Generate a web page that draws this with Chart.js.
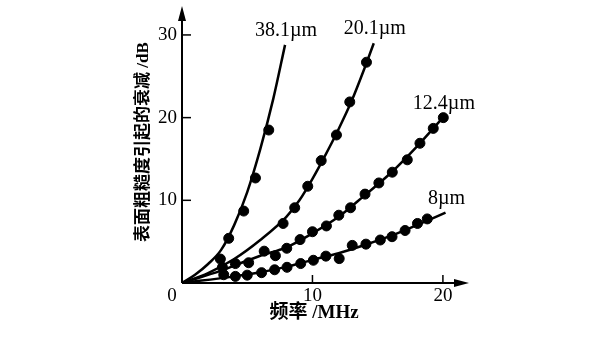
<!DOCTYPE html>
<html>
<head>
<meta charset="utf-8">
<script src="https://cdn.jsdelivr.net/npm/chart.js@4/dist/chart.umd.min.js"></script>
<style>
html, body { margin: 0; padding: 0; background: #fff; }
#wrap { width: 600px; height: 338px; }
</style>
</head>
<body>
<div id="wrap"><canvas id="chart" width="600" height="338"></canvas></div>
<script>
// roughness values (labels at the end of each curve)
const seriesNames = ['38.1µm', '20.1µm', '12.4µm', '8µm'];

// measured points (frequency MHz / loss dB)
const dots381F = [2.94, 3.58, 4.73, 5.63, 6.65];
const dots381L = [2.9, 5.4, 8.7, 12.7, 18.5];
const dots201F = [3.1, 7.75, 8.64, 9.64, 10.67, 11.84, 12.86, 14.14];
const dots201L = [1.9, 7.2, 9.1, 11.7, 14.8, 17.9, 21.9, 26.7];
const dots124F = [4.09, 5.11, 6.3, 7.16, 8.03, 9.05, 10.0, 11.07, 12.02, 12.92, 14.03, 15.09, 16.12, 17.27, 18.24, 19.26, 20.03];
const dots124L = [2.35, 2.45, 3.85, 3.3, 4.2, 5.25, 6.2, 6.9, 8.2, 9.1, 10.75, 12.1, 13.4, 14.9, 16.9, 18.7, 20.0];
const dots8F = [3.2, 4.09, 5.0, 6.1, 7.1, 8.05, 9.1, 10.07, 11.03, 12.05, 13.05, 14.1, 15.2, 16.1, 17.1, 18.05, 18.8];
const dots8L = [1.0, 0.8, 0.95, 1.25, 1.6, 1.9, 2.35, 2.75, 3.25, 2.95, 4.55, 4.7, 5.2, 5.6, 6.35, 7.2, 7.75];

// theory curves
const fit381F = [0, 1, 2, 3, 4, 5, 6, 7, 7.9];
const fit381L = [0, 1.0, 2.3, 4.0, 7.0, 11.0, 16.2, 22.3, 28.8];
const fit201F = [0, 2, 4, 6, 8, 9, 10, 11, 12, 13, 14, 14.7];
const fit201L = [0, 1.2, 2.9, 5.2, 8.0, 10.0, 12.6, 15.5, 18.6, 22.0, 26.0, 29.0];
const fit124F = [0, 3, 4, 6, 8, 10, 12, 14, 16, 18, 20];
const fit124L = [0, 1.5, 2.1, 3.3, 4.3, 6.0, 8.0, 10.6, 13.3, 16.5, 20.0];
const fit8F = [0, 4, 6, 8, 10, 12, 14, 16, 18, 20.2];
const fit8L = [0, 0.8, 1.3, 1.95, 2.8, 3.6, 4.6, 5.7, 7.0, 8.5];

const xTicks = [10, 20];
const yTicks = [10, 20, 30];

function pts(xs, ys) {
    return xs.map((x, i) => ({ x: x, y: ys[i] }));
}

function curve(xs, ys) {
    return {
        type: 'line',
        data: pts(xs, ys),
        borderColor: '#000',
        borderWidth: 2.5,
        pointRadius: 0,
        cubicInterpolationMode: 'monotone',
        fill: false
    };
}

function dots(xs, ys) {
    return {
        type: 'scatter',
        data: pts(xs, ys),
        backgroundColor: '#000',
        borderColor: '#000',
        pointRadius: 5,
        showLine: false
    };
}

const serif = '"Liberation Serif", "Noto Sans CJK SC", serif';

// axes, arrows, ticks and all the text
const axesPlugin = {
    id: 'axesPlugin',
    afterDraw(chart) {
        const ctx = chart.ctx;
        const xs = chart.scales.x;
        const ys = chart.scales.y;
        const x0 = xs.getPixelForValue(0);
        const y0 = ys.getPixelForValue(0);
        const area = chart.chartArea;
        ctx.save();
        ctx.strokeStyle = '#000';
        ctx.fillStyle = '#000';
        ctx.lineWidth = 2;

        // y axis + arrow
        ctx.beginPath();
        ctx.moveTo(x0, y0);
        ctx.lineTo(x0, area.top + 10);
        ctx.stroke();
        ctx.beginPath();
        ctx.moveTo(x0, area.top);
        ctx.lineTo(x0 - 4, area.top + 15);
        ctx.lineTo(x0 + 4, area.top + 15);
        ctx.closePath();
        ctx.fill();

        // x axis + arrow
        ctx.beginPath();
        ctx.moveTo(x0, y0);
        ctx.lineTo(area.right - 10, y0);
        ctx.stroke();
        ctx.beginPath();
        ctx.moveTo(area.right, y0);
        ctx.lineTo(area.right - 15, y0 - 4);
        ctx.lineTo(area.right - 15, y0 + 4);
        ctx.closePath();
        ctx.fill();

        // ticks
        ctx.lineWidth = 1.5;
        ctx.font = '19px ' + serif;
        ctx.textBaseline = 'middle';
        yTicks.forEach(v => {
            const py = ys.getPixelForValue(v);
            ctx.beginPath();
            ctx.moveTo(x0, py);
            ctx.lineTo(x0 + 9, py);
            ctx.stroke();
            ctx.textAlign = 'right';
            ctx.fillText(String(v), x0 - 5, py);
        });
        xTicks.forEach(v => {
            const px = xs.getPixelForValue(v);
            ctx.beginPath();
            ctx.moveTo(px, y0);
            ctx.lineTo(px, y0 - 8);
            ctx.stroke();
            ctx.textAlign = 'center';
            ctx.fillText(String(v), px, y0 + 13);
        });
        ctx.textAlign = 'center';
        ctx.fillText('0', x0 - 10, y0 + 13);

        // curve labels, just above the end of each curve
        ctx.font = '20px ' + serif;
        const ends = [
            [fit381F, fit381L],
            [fit201F, fit201L],
            [fit124F, fit124L],
            [fit8F, fit8L]
        ];
        ends.forEach((e, i) => {
            const n = e[0].length - 1;
            const px = xs.getPixelForValue(e[0][n]);
            const py = ys.getPixelForValue(e[1][n]);
            ctx.fillText(seriesNames[i], px + 1, py - 14);
        });

        // axis titles
        ctx.font = 'bold 19px ' + serif;
        ctx.fillText('频率 /MHz', 314, 313);
        ctx.save();
        ctx.translate(144, 142);
        ctx.rotate(-Math.PI / 2);
        ctx.font = 'bold 17px ' + serif;
        ctx.fillText('表面粗糙度引起的衰减 /dB', 0, 0);
        ctx.restore();

        ctx.restore();
    }
};

new Chart(document.getElementById('chart'), {
    type: 'scatter',
    data: {
        datasets: [
            curve(fit381F, fit381L),
            curve(fit201F, fit201L),
            curve(fit124F, fit124L),
            curve(fit8F, fit8L),
            dots(dots381F, dots381L),
            dots(dots201F, dots201L),
            dots(dots124F, dots124L),
            dots(dots8F, dots8L)
        ]
    },
    options: {
        responsive: false,
        animation: false,
        layout: {
            padding: { left: 182, right: 131, top: 5, bottom: 55 }
        },
        plugins: {
            legend: { display: false },
            tooltip: { enabled: false }
        },
        scales: {
            x: { type: 'linear', min: 0, max: 22, display: false },
            y: { type: 'linear', min: 0, max: 33.5, display: false }
        }
    },
    plugins: [axesPlugin]
});
</script>
</body>
</html>
